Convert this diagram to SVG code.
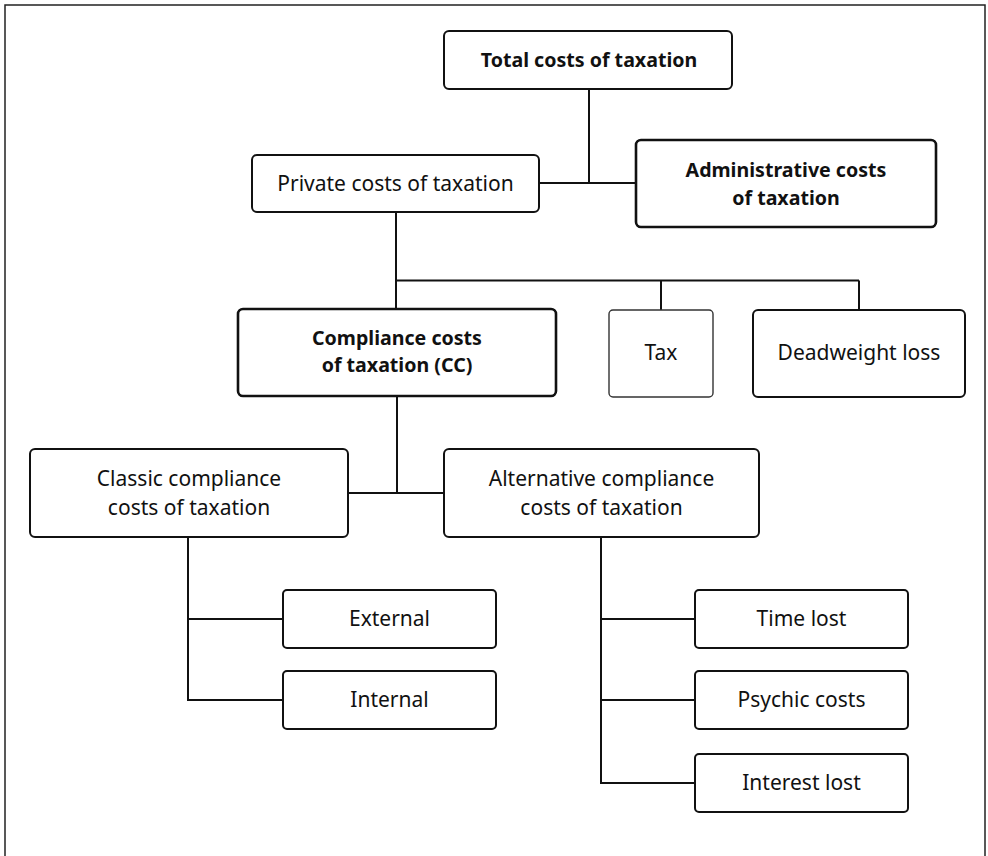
<svg xmlns="http://www.w3.org/2000/svg" width="988" height="856" viewBox="0 0 988 856">
<style>
.box{fill:#fff;stroke:#111;stroke-width:2}
.thick{stroke-width:2.6}
.thin{stroke:#333;stroke-width:1.4}
.lbl{font-family:"Noto Sans","Open Sans",sans-serif;font-size:21px;fill:#111;text-anchor:middle}
.b{font-weight:bold;font-size:19.6px}
.ln{fill:none;stroke:#111;stroke-width:2}
</style>
<rect width="988" height="856" fill="#fff"/>
<path d="M5,856 V5 H985 V856" fill="none" stroke="#222" stroke-width="1.5"/>
<g id="connectors">
<path class="ln" d="M589,89 V183 M539,183 H636"/>
<path class="ln" d="M396,212 V309 M396,280.5 H859 M661,280.5 V310 M859,280.5 V310"/>
<path class="ln" d="M397,396 V493 M348,493 H444"/>
<path class="ln" d="M188,537 V700 H283 M188,619 H283"/>
<path class="ln" d="M601,537 V783 H695 M601,619 H695 M601,700 H695"/>
</g>
<g id="total"><rect class="box" x="444" y="31" width="288" height="58" rx="5"/><text class="lbl b" x="589" y="67">Total costs of taxation</text></g>
<g id="private"><rect class="box" x="252" y="155" width="287" height="57" rx="5"/><text class="lbl" x="395.5" y="191">Private costs of taxation</text></g>
<g id="admin"><rect class="box thick" x="636" y="140" width="300" height="87" rx="5"/><text class="lbl b" x="786" y="177">Administrative costs</text><text class="lbl b" x="786" y="205">of taxation</text></g>
<g id="compliance"><rect class="box thick" x="238" y="309" width="318" height="87" rx="5"/><text class="lbl b" x="397" y="345">Compliance costs</text><text class="lbl b" x="397" y="372">of taxation (CC)</text></g>
<g id="tax"><rect class="box thin" x="609" y="310" width="104" height="87" rx="4"/><text class="lbl" x="661" y="360">Tax</text></g>
<g id="deadweight"><rect class="box" x="753" y="310" width="212" height="87" rx="5"/><text class="lbl" x="859" y="360">Deadweight loss</text></g>
<g id="classic"><rect class="box" x="30" y="449" width="318" height="88" rx="5"/><text class="lbl" x="189" y="486">Classic compliance</text><text class="lbl" x="189" y="515">costs of taxation</text></g>
<g id="alternative"><rect class="box" x="444" y="449" width="315" height="88" rx="5"/><text class="lbl" x="601.5" y="486">Alternative compliance</text><text class="lbl" x="601.5" y="515">costs of taxation</text></g>
<g id="external"><rect class="box" x="283" y="590" width="213" height="58" rx="4"/><text class="lbl" x="389.5" y="626">External</text></g>
<g id="internal"><rect class="box" x="283" y="671" width="213" height="58" rx="4"/><text class="lbl" x="389.5" y="707">Internal</text></g>
<g id="timelost"><rect class="box" x="695" y="590" width="213" height="58" rx="4"/><text class="lbl" x="801.5" y="626">Time lost</text></g>
<g id="psychic"><rect class="box" x="695" y="671" width="213" height="58" rx="4"/><text class="lbl" x="801.5" y="707">Psychic costs</text></g>
<g id="interest"><rect class="box" x="695" y="754" width="213" height="58" rx="4"/><text class="lbl" x="801.5" y="790">Interest lost</text></g>
</svg>
